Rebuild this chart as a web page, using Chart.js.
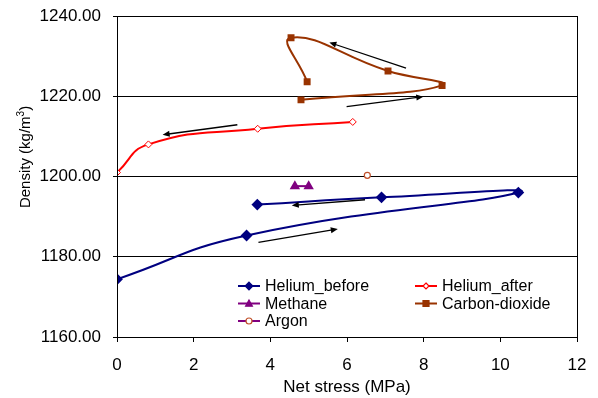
<!DOCTYPE html>
<html>
<head>
<meta charset="utf-8">
<script src="https://cdn.jsdelivr.net/npm/chart.js@4.4.1/dist/chart.umd.min.js"></script>
<style>
  html, body { margin: 0; padding: 0; background: #fff; }
  #wrap { width: 598px; height: 398px; position: relative; }
</style>
</head>
<body>
<div id="wrap"><canvas id="chart" width="598" height="398"></canvas></div>
<script>
// values (x = net stress MPa, y = density kg/m3)
const heliumBeforeX = [0, 3.38, 10.47, 6.9, 3.66];
const heliumBeforeY = [1174.4, 1185.3, 1196.0, 1194.8, 1193.0];
const heliumAfterX = [0, 0.82, 3.67, 6.15];
const heliumAfterY = [1201.0, 1208.0, 1211.9, 1213.6];
const methaneX = [4.64, 5.0];
const methaneY = [1197.6, 1197.6];
const co2X = [4.8, 8.48, 7.07, 4.54, 4.96];
const co2Y = [1219.1, 1222.7, 1226.3, 1234.6, 1223.6];
const argonX = [6.53];
const argonY = [1200.3];

// loading-direction arrows: [fromX, fromY, toX, toY]
const arrows = [
  [7.54, 1227.0, 5.54, 1233.4],
  [5.99, 1217.4, 7.99, 1219.9],
  [3.14, 1212.9, 1.19, 1210.4],
  [6.47, 1194.2, 4.56, 1192.8],
  [3.69, 1183.6, 5.76, 1186.9]
];

const xTicks = [0, 2, 4, 6, 8, 10, 12];
const yTicks = [1160, 1180, 1200, 1220, 1240];

const pts = (xs, ys) => xs.map((x, i) => ({ x: x, y: ys[i] }));
const FONT = 'Liberation Sans, Arial, sans-serif';

const arrowPlugin = {
  id: 'arrows',
  afterDatasetsDraw(chart) {
    const ctx = chart.ctx, xs = chart.scales.x, ys = chart.scales.y;
    ctx.save();
    ctx.strokeStyle = '#000';
    ctx.fillStyle = '#000';
    ctx.lineWidth = 1.3;
    arrows.forEach(a => {
      const x1 = xs.getPixelForValue(a[0]), y1 = ys.getPixelForValue(a[1]);
      const x2 = xs.getPixelForValue(a[2]), y2 = ys.getPixelForValue(a[3]);
      const ang = Math.atan2(y2 - y1, x2 - x1);
      ctx.beginPath();
      ctx.moveTo(x1, y1);
      ctx.lineTo(x2 - 4 * Math.cos(ang), y2 - 4 * Math.sin(ang));
      ctx.stroke();
      ctx.beginPath();
      ctx.moveTo(x2, y2);
      ctx.lineTo(x2 - 7 * Math.cos(ang) + 3 * Math.sin(ang), y2 - 7 * Math.sin(ang) - 3 * Math.cos(ang));
      ctx.lineTo(x2 - 7 * Math.cos(ang) - 3 * Math.sin(ang), y2 - 7 * Math.sin(ang) + 3 * Math.cos(ang));
      ctx.closePath();
      ctx.fill();
    });
    ctx.restore();
  }
};

function drawMarker(ctx, style, x, y, r) {
  if (style === 'rectRot') {
    ctx.moveTo(x, y - r); ctx.lineTo(x + r, y); ctx.lineTo(x, y + r); ctx.lineTo(x - r, y); ctx.closePath();
  } else if (style === 'rect') {
    ctx.rect(x - r, y - r, 2 * r, 2 * r);
  } else if (style === 'triangle') {
    ctx.moveTo(x, y - r); ctx.lineTo(x + r, y + r * 0.8); ctx.lineTo(x - r, y + r * 0.8); ctx.closePath();
  } else {
    ctx.arc(x, y, r, 0, Math.PI * 2);
  }
}

// legend drawn inside the plot, two columns
const legendPlugin = {
  id: 'innerLegend',
  afterDraw(chart) {
    const ctx = chart.ctx;
    const cols = [238, 415];
    const rows = [286, 303.5, 321];
    ctx.save();
    ctx.font = '16px ' + FONT;
    ctx.textBaseline = 'middle';
    chart.data.datasets.forEach((ds, i) => {
      const cx = cols[i % 2], cy = rows[Math.floor(i / 2)];
      ctx.strokeStyle = ds.legendLine || ds.borderColor;
      ctx.lineWidth = 2;
      ctx.beginPath();
      ctx.moveTo(cx, cy);
      ctx.lineTo(cx + 22, cy);
      ctx.stroke();
      ctx.fillStyle = ds.pointBackgroundColor;
      ctx.strokeStyle = ds.pointBorderColor;
      ctx.lineWidth = 1.2;
      ctx.beginPath();
      drawMarker(ctx, ds.pointStyle, cx + 11, cy, Math.max(3, ds.pointRadius * 0.85));
      ctx.fill();
      ctx.stroke();
      ctx.fillStyle = '#000';
      ctx.fillText(ds.label, cx + 27, cy + 1);
    });
    ctx.restore();
  }
};

// frame round the plot and the y title with a real superscript
const frame = {
  id: 'frame',
  afterDatasetsDraw(chart) {
    const a = chart.chartArea, ctx = chart.ctx;
    ctx.save();
    ctx.strokeStyle = '#000';
    ctx.lineWidth = 1;
    ctx.strokeRect(Math.round(a.left) + 0.5, Math.round(a.top) + 0.5, Math.round(a.right - a.left), Math.round(a.bottom - a.top));
    ctx.restore();
  },
  afterDraw(chart) {
    const ctx = chart.ctx;
    const main = 'Density (kg/m', sup = '3', tail = ')';
    ctx.save();
    ctx.translate(25, 157);
    ctx.rotate(-Math.PI / 2);
    ctx.fillStyle = '#000';
    ctx.textBaseline = 'middle';
    ctx.font = '15px ' + FONT;
    const w1 = ctx.measureText(main).width, w3 = ctx.measureText(tail).width;
    ctx.font = '10px ' + FONT;
    const w2 = ctx.measureText(sup).width;
    let x = -(w1 + w2 + w3) / 2;
    ctx.font = '15px ' + FONT;
    ctx.fillText(main, x, 1);
    x += w1;
    ctx.font = '10px ' + FONT;
    ctx.fillText(sup, x, -4);
    x += w2;
    ctx.font = '15px ' + FONT;
    ctx.fillText(tail, x, 1);
    ctx.restore();
  }
};

new Chart(document.getElementById('chart'), {
  type: 'scatter',
  data: {
    datasets: [{
      label: 'Helium_before',
      data: pts(heliumBeforeX, heliumBeforeY),
      showLine: true, tension: 0.5,
      borderColor: '#000080', borderWidth: 2,
      pointStyle: 'rectRot', pointRadius: 4.5,
      pointBackgroundColor: '#000080', pointBorderColor: '#000080'
    }, {
      label: 'Helium_after',
      data: pts(heliumAfterX, heliumAfterY),
      showLine: true, tension: 0.5,
      borderColor: '#ff0000', borderWidth: 2,
      pointStyle: 'rectRot', pointRadius: 3.5,
      pointBackgroundColor: '#ffffff', pointBorderColor: '#ff0000', pointBorderWidth: 1
    }, {
      label: 'Methane',
      data: pts(methaneX, methaneY),
      showLine: true, tension: 0.5,
      borderColor: '#800080', borderWidth: 2,
      pointStyle: 'triangle', pointRadius: 4,
      pointBackgroundColor: '#800080', pointBorderColor: '#800080'
    }, {
      label: 'Carbon-dioxide',
      data: pts(co2X, co2Y),
      showLine: true, tension: 0.5,
      borderColor: '#993300', borderWidth: 2,
      pointStyle: 'rect', pointRadius: 3.5,
      pointBackgroundColor: '#993300', pointBorderColor: '#993300'
    }, {
      label: 'Argon',
      data: pts(argonX, argonY),
      showLine: false,
      borderColor: '#993300', legendLine: '#800080',
      pointStyle: 'circle', pointRadius: 3,
      pointBackgroundColor: '#ffffff', pointBorderColor: '#c0502a', pointBorderWidth: 1.2
    }]
  },
  options: {
    responsive: false,
    animation: false,
    devicePixelRatio: 1,
    layout: { padding: { left: 0, right: 21, top: 16, bottom: 0 } },
    plugins: { legend: { display: false }, tooltip: { enabled: false } },
    scales: {
      x: {
        type: 'linear', min: 0, max: 12,
        afterBuildTicks: s => { s.ticks = xTicks.map(v => ({ value: v })); },
        afterFit: s => { s.height = 61; s.paddingLeft = 0; s.paddingRight = 0; },
        grid: { display: true, drawOnChartArea: false, color: '#000', tickLength: 5, tickColor: '#000' },
        border: { color: '#000' },
        ticks: { color: '#000', font: { family: FONT, size: 17 }, padding: 13, maxRotation: 0 },
        title: { display: true, text: 'Net stress (MPa)', color: '#000', font: { family: FONT, size: 17 }, padding: { top: 0, bottom: 0 } }
      },
      y: {
        type: 'linear', min: 1160, max: 1240,
        afterBuildTicks: s => { s.ticks = yTicks.map(v => ({ value: v })); },
        afterFit: s => { s.width = 117; s.paddingTop = 0; s.paddingBottom = 0; },
        grid: { color: '#000', tickLength: 4, tickColor: '#000' },
        border: { color: '#000' },
        ticks: { color: '#000', font: { family: FONT, size: 17 }, padding: 12, callback: v => v.toFixed(2) },
        title: { display: false }
      }
    }
  },
  plugins: [arrowPlugin, legendPlugin, frame]
});
</script>
</body>
</html>
